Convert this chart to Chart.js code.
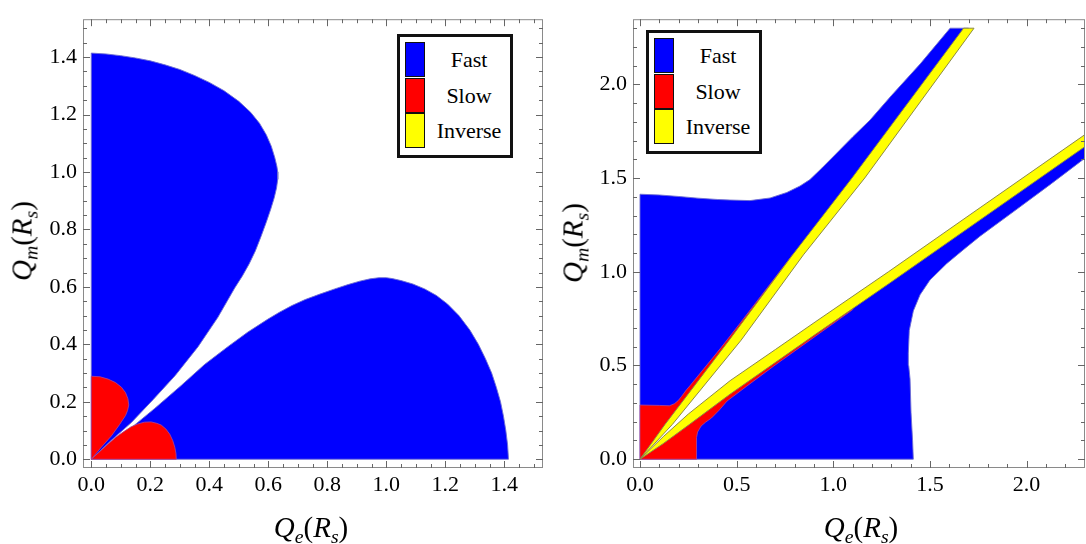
<!DOCTYPE html>
<html>
<head>
<meta charset="utf-8">
<script src="https://cdn.jsdelivr.net/npm/chart.js@4.4.1/dist/chart.umd.min.js"></script>
<style>
  html, body { margin: 0; padding: 0; background: #fff; }
  #page { position: relative; width: 1086px; height: 544px; overflow: hidden; background: #fff; }
  canvas { position: absolute; top: 0; }
  .ttl { position: absolute; font-family: 'Liberation Serif', 'DejaVu Serif', serif; font-size: 29px; color: #000; white-space: nowrap; line-height: 1; }
  .ttl sub { font-size: 68%; vertical-align: -0.28em; line-height: 0; }
  .xt { transform: translateX(-50%); }
  .yt { transform: translate(-50%, -50%) rotate(-90deg); }
  .legend { position: absolute; width: 110px; height: 118px; border: 3px solid #111; background: #fff; }
  .sw { position: absolute; left: 5px; width: 18px; height: 33px; border: 1.5px solid #111; }
  .lt { position: absolute; left: 69px; transform: translate(-50%, -50%); font-family: 'Liberation Serif', serif; font-size: 22px; color: #000; white-space: nowrap; line-height: 1; }
</style>
</head>
<body>
<div id="page">
  <canvas id="c1" width="548" height="544" style="left:0px"></canvas>
  <canvas id="c2" width="538" height="544" style="left:548px"></canvas>

  <div class="ttl xt" style="left:311px; top:513px;"><i>Q</i><sub><i>e</i></sub>(<i>R</i><sub><i>s</i></sub>)</div>
  <div class="ttl yt" style="left:22px; top:241px;"><i>Q</i><sub><i>m</i></sub>(<i>R</i><sub><i>s</i></sub>)</div>
  <div class="ttl xt" style="left:861px; top:513px;"><i>Q</i><sub><i>e</i></sub>(<i>R</i><sub><i>s</i></sub>)</div>
  <div class="ttl yt" style="left:573px; top:243px;"><i>Q</i><sub><i>m</i></sub>(<i>R</i><sub><i>s</i></sub>)</div>

  <div class="legend" style="left:397px; top:34px;">
    <div class="sw" style="top:5px; background:#0000ff;"></div>
    <div class="sw" style="top:40.5px; background:#ff0000;"></div>
    <div class="sw" style="top:76px; background:#ffff00;"></div>
    <div class="lt" style="top:23px;">Fast</div>
    <div class="lt" style="top:59px;">Slow</div>
    <div class="lt" style="top:94px;">Inverse</div>
  </div>
  <div class="legend" style="left:646px; top:30px;">
    <div class="sw" style="top:5px; background:#0000ff;"></div>
    <div class="sw" style="top:40.5px; background:#ff0000;"></div>
    <div class="sw" style="top:76px; background:#ffff00;"></div>
    <div class="lt" style="top:23px;">Fast</div>
    <div class="lt" style="top:59px;">Slow</div>
    <div class="lt" style="top:94px;">Inverse</div>
  </div>
</div>
<script>
// ---------------- Data: left panel ----------------
const leftMajorTicks = [0, 0.2, 0.4, 0.6, 0.8, 1.0, 1.2, 1.4];
const leftMinorTicks = [0.05,0.1,0.15,0.25,0.3,0.35,0.45,0.5,0.55,0.65,0.7,0.75,0.85,0.9,0.95,1.05,1.1,1.15,1.25,1.3,1.35,1.45,1.5];

const leftFastUpper = [
  [0,0],[0,1.414],[0.05,1.411],[0.1,1.405],[0.15,1.397],[0.2,1.387],[0.25,1.373],[0.3,1.357],
  [0.35,1.336],[0.4,1.312],[0.45,1.283],[0.5,1.246],[0.54,1.208],[0.57,1.170],[0.593,1.13],
  [0.61,1.09],[0.622,1.05],[0.629,1.02],[0.632,1.0],[0.632,0.975],[0.628,0.945],[0.62,0.91],
  [0.608,0.87],[0.593,0.825],[0.575,0.775],[0.556,0.725],[0.535,0.68],[0.512,0.638],
  [0.486,0.596],[0.429,0.494],[0.362,0.392],[0.285,0.292],[0.21,0.208],
  [0.136,0.128],[0.068,0.066],[0,0]
];
const leftFastLower = [
  [0,0],[0.068,0.060],[0.136,0.110],[0.215,0.177],[0.305,0.257],[0.384,0.330],[0.463,0.392],
  [0.531,0.443],[0.599,0.488],[0.638,0.512],[0.68,0.535],[0.725,0.556],[0.775,0.575],
  [0.825,0.593],[0.87,0.608],[0.91,0.62],[0.945,0.628],[0.975,0.632],[1.0,0.632],[1.02,0.629],
  [1.05,0.622],[1.09,0.61],[1.13,0.593],[1.17,0.57],[1.208,0.54],
  [1.246,0.5],[1.283,0.45],[1.312,0.4],[1.336,0.35],[1.357,0.3],[1.373,0.25],[1.387,0.2],
  [1.397,0.15],[1.405,0.1],[1.411,0.05],[1.414,0],[0,0]
];
const leftSlowUpper = [
  [0,0],[0,0.289],[0.03,0.287],[0.057,0.279],[0.082,0.267],[0.102,0.251],[0.116,0.232],
  [0.124,0.211],[0.127,0.189],[0.123,0.17],[0.116,0.152],[0.096,0.121],[0.068,0.081],
  [0.034,0.042],[0,0]
];
const leftSlowLower = [
  [0,0],[0.057,0.053],[0.085,0.078],[0.113,0.098],[0.135,0.113],[0.158,0.123],[0.18,0.129],
  [0.203,0.130],[0.222,0.125],[0.237,0.119],[0.253,0.105],[0.266,0.087],[0.276,0.065],
  [0.283,0.042],[0.287,0.02],[0.288,0],[0,0]
];

// ---------------- Data: right panel ----------------
const rightMajorTicks = [0, 0.5, 1.0, 1.5, 2.0];
const rightMinorTicks = [0.1,0.2,0.3,0.4,0.6,0.7,0.8,0.9,1.1,1.2,1.3,1.4,1.6,1.7,1.8,1.9,2.1,2.2,2.3];

const rightFastUpper = [
  [0,0],[0,1.414],[0.1,1.41],[0.2,1.402],[0.3,1.393],[0.4,1.386],[0.466,1.383],[0.569,1.38],
  [0.673,1.394],[0.759,1.423],[0.828,1.458],[0.879,1.492],[0.94,1.553],[1.0,1.615],[1.1,1.72],
  [1.19,1.81],[1.3,1.94],[1.45,2.11],[1.604,2.3],[1.70,2.3],[1.13,1.501],[0.817,1.09],
  [0.492,0.635],[0.148,0.185],[0,0]
];
const rightFastLower = [
  [0,0],[1.414,0],[1.41,0.1],[1.402,0.25],[1.397,0.428],[1.39,0.5],[1.388,0.566],[1.393,0.687],
  [1.414,0.791],[1.449,0.878],[1.5,0.956],[1.587,1.044],[1.673,1.118],[1.759,1.19],[1.931,1.32],
  [2.121,1.465],[2.3,1.605],[2.3,1.699],[1.759,1.31],[1.285,0.968],[0.91,0.702],[0.7,0.551],
  [0.466,0.384],[0.25,0.212],[0.12,0.1015],[0,0]
];
const rightSlowUpper = [
  [0,0],[0,0.289],[0.1,0.287],[0.152,0.285],[0.178,0.296],[0.198,0.313],[0.215,0.335],
  [0.24,0.37],[0.26,0.394],[0.328,0.48],[0.419,0.595],[0.521,0.73],[0.625,0.87],[0.722,1.0],
  [0.789,1.09],[0.817,1.09],[0.756,1.0],[0.492,0.635],[0.148,0.185],[0,0]
];
const rightSlowLower = [
  [0,0],[0.293,0],[0.293,0.05],[0.292,0.116],[0.298,0.145],[0.316,0.177],[0.34,0.198],
  [0.37,0.22],[0.41,0.262],[0.45,0.31],[0.55,0.388],[0.7,0.503],[0.91,0.658],[1.1,0.798],
  [1.1,0.835],[0.91,0.702],[0.7,0.551],[0.466,0.384],[0.25,0.212],[0.12,0.1015],[0,0]
];
const rightInverseSteep = [
  [0,0],[0.129,0.185],[0.461,0.635],[0.789,1.09],[1.097,1.501],[1.674,2.3],
  [1.728,2.3],[1.163,1.501],[0.845,1.09],[0.523,0.635],[0.167,0.185],[0,0]
];
const rightInverseShallow = [
  [0,0],[0.12,0.12],[0.25,0.241],[0.466,0.419],[0.7,0.585],[0.91,0.735],[1.285,1.0],
  [1.759,1.342],[2.3,1.731],[2.3,1.667],[1.759,1.277],[1.285,0.935],[0.91,0.668],[0.7,0.516],
  [0.466,0.347],[0.25,0.181],[0.12,0.083],[0,0]
];

// ---------------- Helpers ----------------
const BLUE = '#0000ff', RED = '#ff0000', YELLOW = '#ffff00';
const SERIF = "'Liberation Serif', 'Times New Roman', serif";
const toXY = a => a.map(([x, y]) => ({ x, y }));

Chart.defaults.font.family = SERIF;
Chart.defaults.font.size = 22;
Chart.defaults.color = '#000';

function region(points, fillColor, borderColor, order) {
  return {
    data: toXY(points),
    backgroundColor: fillColor,
    borderColor: borderColor,
    borderWidth: 1,
    pointRadius: 0,
    tension: 0,
    fill: 'shape',
    order: order
  };
}

const frameTicks = {
  id: 'frameTicks',
  afterDatasetsDraw(chart, args, opts) {
    const { ctx, chartArea } = chart;
    const { left, right, top, bottom } = chartArea;
    const xs = chart.scales.x, ys = chart.scales.y;
    ctx.save();
    ctx.strokeStyle = '#8a8a8a';
    ctx.lineWidth = 1;
    ctx.strokeRect(left + 0.5, top + 0.5, right - left - 1, bottom - top - 1);
    ctx.strokeStyle = '#666';
    const draw = (vals, len) => {
      vals.forEach(v => {
        const px = Math.round(xs.getPixelForValue(v)) + 0.5;
        if (px > left && px < right) {
          ctx.beginPath();
          ctx.moveTo(px, bottom); ctx.lineTo(px, bottom - len);
          ctx.moveTo(px, top); ctx.lineTo(px, top + len);
          ctx.stroke();
        }
        const py = Math.round(ys.getPixelForValue(v)) + 0.5;
        if (py > top && py < bottom) {
          ctx.beginPath();
          ctx.moveTo(left, py); ctx.lineTo(left + len, py);
          ctx.moveTo(right, py); ctx.lineTo(right - len, py);
          ctx.stroke();
        }
      });
    };
    draw(opts.major, 7);
    draw(opts.minor, 4);
    ctx.restore();
  }
};

function makeChart(id, datasets, xr, yr, major, minor, yWidth, padding) {
  const axis = (range, isX) => ({
    type: 'linear',
    min: range[0],
    max: range[1],
    afterBuildTicks: s => { s.ticks = major.map(v => ({ value: v })); },
    afterFit: s => { if (isX) s.height = 76; else s.width = yWidth; },
    grid: { display: false, drawTicks: false },
    border: { display: false },
    ticks: {
      font: { family: SERIF, size: 22 },
      color: '#000', padding: isX ? 4 : 6,
      autoSkip: false, maxRotation: 0,
      callback: v => Number(v).toFixed(1)
    }
  });
  return new Chart(document.getElementById(id), {
    type: 'line',
    data: { datasets },
    options: {
      responsive: false,
      animation: false,
      devicePixelRatio: 1,
      layout: { padding },
      plugins: {
        legend: { display: false },
        tooltip: { enabled: false },
        frameTicks: { major, minor }
      },
      scales: { x: axis(xr, true), y: axis(yr, false) }
    },
    plugins: [frameTicks]
  });
}

const blueEdge = 'rgba(110,110,210,0.9)';
const redEdge = 'rgba(170,70,150,0.8)';
const yellowEdge = '#8d8a45';

makeChart('c1', [
  region(leftSlowUpper, RED, redEdge, 1),
  region(leftSlowLower, RED, redEdge, 1),
  region(leftFastUpper, BLUE, blueEdge, 2),
  region(leftFastLower, BLUE, blueEdge, 2)
], [-0.0281, 1.531], [-0.0305, 1.532], leftMajorTicks, leftMinorTicks, 83,
   { left: 0, top: 7, right: 5, bottom: 0 });

makeChart('c2', [
  region(rightInverseSteep, YELLOW, yellowEdge, 1),
  region(rightInverseShallow, YELLOW, yellowEdge, 1),
  region(rightSlowUpper, RED, redEdge, 2),
  region(rightSlowLower, RED, redEdge, 2),
  region(rightFastUpper, BLUE, blueEdge, 3),
  region(rightFastLower, BLUE, blueEdge, 3)
], [-0.0362, 2.302], [-0.047, 2.348], rightMajorTicks, rightMinorTicks, 85,
   { left: 0, top: 7, right: 1, bottom: 0 });
</script>
</body>
</html>
